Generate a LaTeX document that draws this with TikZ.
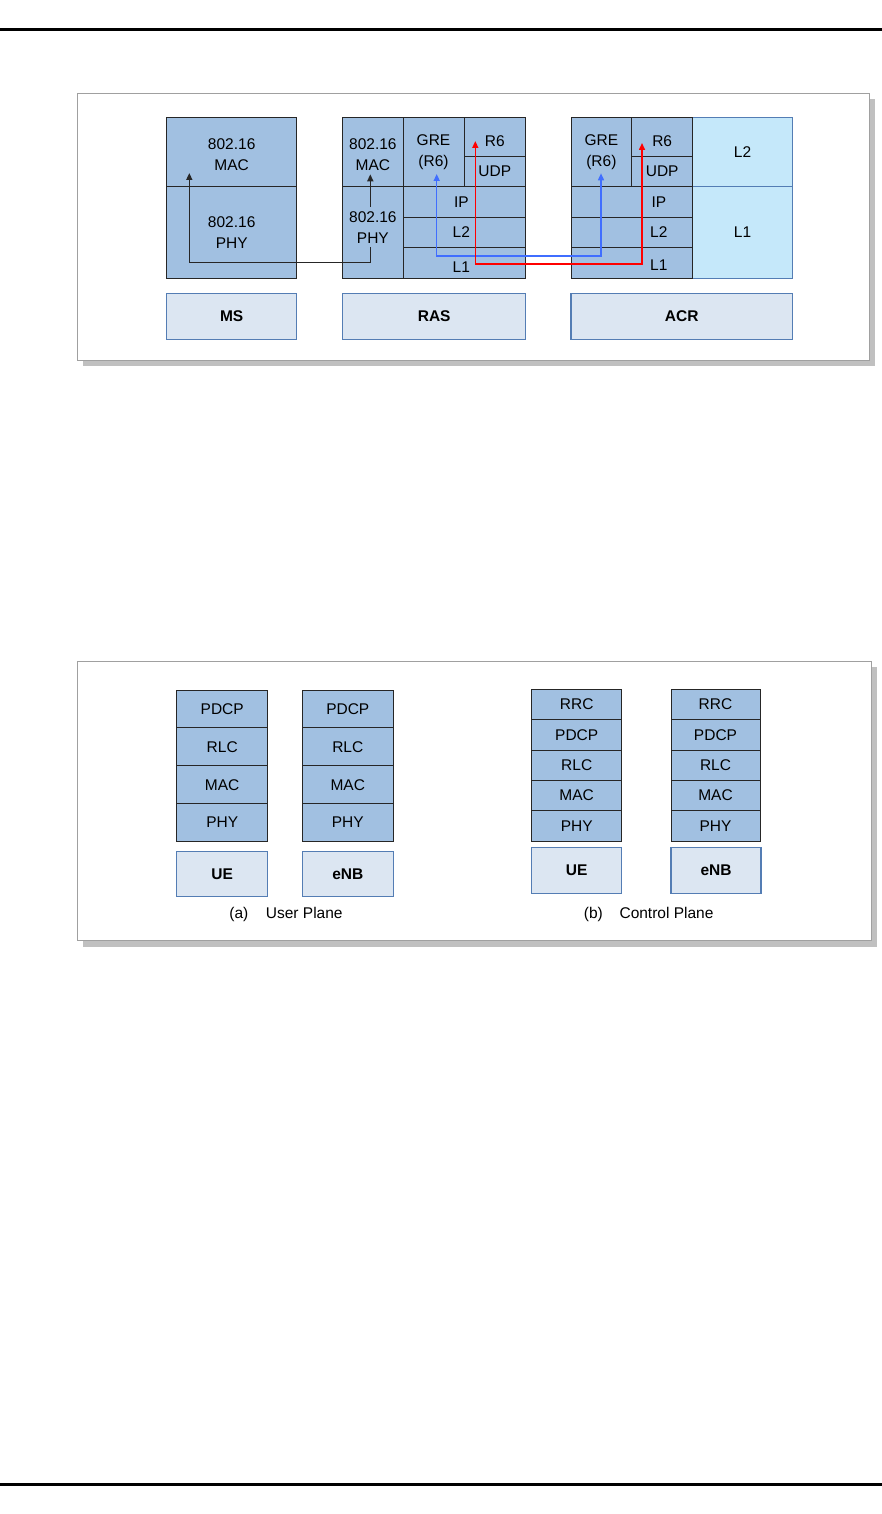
\documentclass[tikz,border=0pt]{standalone}
\usepackage{fontspec}
\setmainfont{Liberation Sans}
\usepackage{xcolor}
\usetikzlibrary{arrows.meta}

\begin{document}
\begin{tikzpicture}[x=1pt,y=-1pt,>={Triangle[length=7pt,width=6pt]},font=\fontsize{15.5}{21}\selectfont]
    \definecolor{cCell}{RGB}{161,192,225}\definecolor{cLite}{RGB}{197,232,250}
    \definecolor{cTag}{RGB}{220,230,242}\definecolor{cTagB}{RGB}{84,125,180}
    \definecolor{cBlue}{RGB}{64,110,255}\definecolor{cRed}{RGB}{255,0,0}
    \definecolor{cShade}{RGB}{192,192,192}\definecolor{cFrame}{RGB}{160,160,160}
    \tikzset{
      cell/.style={draw=black!85,fill=cCell,line width=0.9pt,inner sep=0pt,align=center},
      lite/.style={draw=cTagB,fill=cLite,line width=0.9pt,inner sep=0pt},
      tag/.style={draw=cTagB,fill=cTag,line width=1.2pt,inner sep=0pt,font=\fontsize{15.5}{21}\selectfont\bfseries},
      flow/.style={line width=1.5pt}
    }
    \useasboundingbox (0,0) rectangle (882,1514);
    % ---------- page rules ----------
    \draw[line width=2.5pt] (0,29.3) -- (882,29.3);
    \draw[line width=3pt] (0,1484.3) -- (882,1484.3);
    % ---------- frames ----------
    \fill[cShade] (83,99) rectangle (875,366);
    \draw[cFrame,fill=white,line width=1pt] (77.5,93.3) rectangle (869.3,360);
    \fill[cShade] (83,667) rectangle (877,946.5);
    \draw[cFrame,fill=white,line width=1pt] (77.5,661.7) rectangle (871,940.7);
    % ---------- TOP: MS ----------
    \node[cell,minimum width=130pt,minimum height=69pt,
          label={[yshift=-3pt,align=center]center:802.16\\MAC}] (msmac) at (231.7,151.8) {};
    \node[cell,minimum width=130pt,minimum height=92pt] (msphy) at (231.7,232.3) {802.16\\PHY};
    \node[tag,minimum width=130pt,minimum height=46pt] (ms) at (231.7,316.3) {MS};
    % ---------- TOP: RAS ----------
    \node[cell,minimum width=60.3pt,minimum height=69pt,
          label={[yshift=-3pt,align=center]center:802.16\\MAC}] (rasmac) at (372.85,151.8) {};
    \node[cell,minimum width=60.3pt,minimum height=92pt,
          label={[yshift=5pt,align=center]center:802.16\\PHY}] (rasphy) at (372.85,232.3) {};
    \node[cell,minimum width=61pt,minimum height=69pt] (rasgre) at (433.5,151.8) {GRE\\(R6)};
    \node[cell,minimum width=61.7pt,minimum height=39pt,label={[yshift=-4pt]center:R6}] (rasrsix) at (494.85,136.8) {};
    \node[cell,minimum width=61.7pt,minimum height=30pt] (rasudp) at (494.85,171.3) {UDP};
    \node[cell,minimum width=122.7pt,minimum height=31pt,label={[xshift=-3pt]center:IP}] (rasip) at (464.35,201.8) {};
    \node[cell,minimum width=122.7pt,minimum height=30pt,label={[xshift=-3pt]center:L2}] (rasltwo) at (464.35,232.3) {};
    \node[cell,minimum width=122.7pt,minimum height=31pt,label={[xshift=-3pt,yshift=-4pt]center:L1}] (raslone) at (464.35,262.8) {};
    \node[tag,minimum width=183pt,minimum height=46pt] (ras) at (434.2,316.3) {RAS};
    % ---------- TOP: ACR ----------
    \node[lite,minimum width=99.6pt,minimum height=69pt] (acrltwolite) at (742.5,151.8) {L2};
    \node[lite,minimum width=99.6pt,minimum height=92pt] (acrlonelite) at (742.5,232.3) {L1};
    \node[cell,minimum width=60.7pt,minimum height=69pt] (acrgre) at (601.35,151.8) {GRE\\(R6)};
    \node[cell,minimum width=61pt,minimum height=39pt,label={[yshift=-4pt]center:R6}] (acrrsix) at (662.2,136.8) {};
    \node[cell,minimum width=61pt,minimum height=30pt] (acrudp) at (662.2,171.3) {UDP};
    \node[cell,minimum width=121.7pt,minimum height=31pt,label={[xshift=27pt]center:IP}] (acrip) at (631.85,201.8) {};
    \node[cell,minimum width=121.7pt,minimum height=30pt,label={[xshift=27pt]center:L2}] (acrltwo) at (631.85,232.3) {};
    \node[cell,minimum width=121.7pt,minimum height=31pt,label={[xshift=27pt,yshift=-2pt]center:L1}] (acrlone) at (631.85,262.8) {};
    \node[tag,minimum width=221.3pt,minimum height=46pt] (acr) at (681.65,316.3) {ACR};
    % ---------- TOP: flows ----------
    \coordinate (phyout) at (370.3,247);
    \coordinate (phyup) at (370.3,206.7);
    \coordinate (msin) at (189.3,173);
    \coordinate (rasmacin) at (370.3,174.3);
    \coordinate (rasgrein) at (436.7,174);
    \coordinate (acrgrein) at (601,173.3);
    \coordinate (rasrsixin) at (475.3,141);
    \coordinate (acrrsixin) at (642,143);
    \draw[flow,->,black!85] (phyout) -- ++(0,15.7) -| (msin);
    \draw[flow,->,black!85] (phyup) -- (rasmacin);
    \draw[flow,<->,cBlue] (rasgrein) -- ++(0,82) -| (acrgrein);
    \draw[flow,<->,cRed] (rasrsixin) -- ++(0,123) -| (acrrsixin);
    % ---------- BOTTOM LEFT: user plane ----------
    \foreach \n [count=\i] in {PDCP,RLC,MAC,PHY} {
      \node[cell,minimum width=91pt,minimum height=37.9pt] (upue\i) at (222.2,{690+37.9*(\i-0.5)}) {\n};
      \node[cell,minimum width=91pt,minimum height=37.9pt] (upenb\i) at (347.8,{690+37.9*(\i-0.5)}) {\n};
    }
    \node[tag,minimum width=91pt,minimum height=45.4pt] (upue) at (222.2,874) {UE};
    \node[tag,minimum width=91pt,minimum height=45.4pt] (upenb) at (347.8,874) {eNB};
    \node[anchor=base,inner sep=0pt] (capa) at (286,918.3) {(a)\hspace{17.6pt}User Plane};
    % ---------- BOTTOM RIGHT: control plane ----------
    \foreach \n [count=\i] in {RRC,PDCP,RLC,MAC,PHY} {
      \node[cell,minimum width=90pt,minimum height=30.34pt] (cpue\i) at (576.7,{689.3+30.34*(\i-0.5)}) {\n};
      \node[cell,minimum width=89pt,minimum height=30.34pt] (cpenb\i) at (715.5,{689.3+30.34*(\i-0.5)}) {\n};
    }
    \node[tag,minimum width=90pt,minimum height=45.6pt] (cpue) at (576.7,870.5) {UE};
    \node[tag,minimum width=90pt,minimum height=45.6pt] (cpenb) at (716,870.5) {eNB};
    \node[anchor=base,inner sep=0pt] (capb) at (648.7,918.7) {(b)\hspace{16.7pt}Control Plane};
\end{tikzpicture}
\end{document}
